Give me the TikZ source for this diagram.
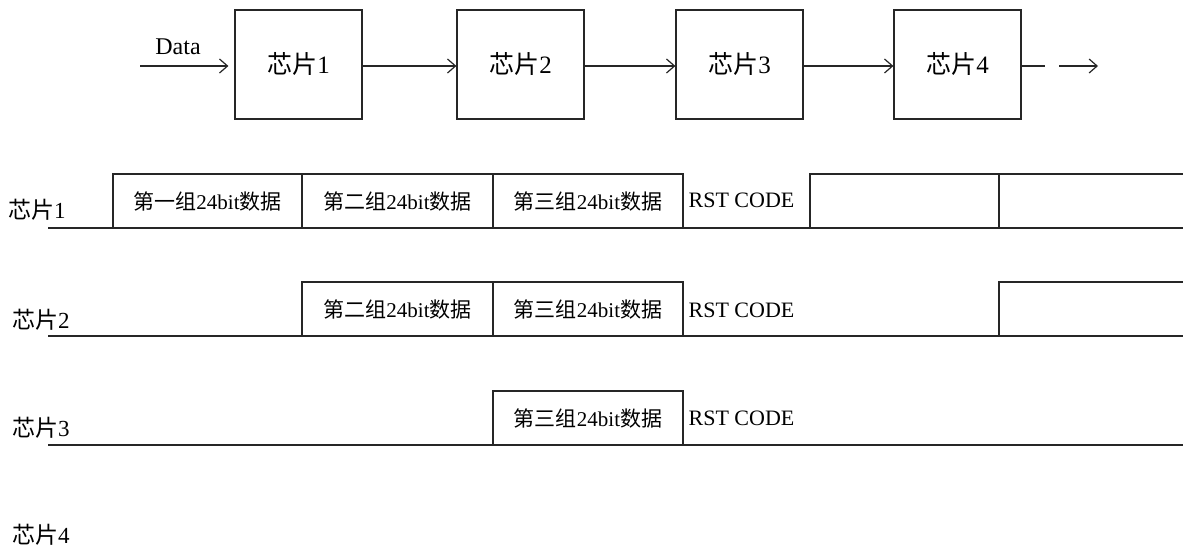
\documentclass[tikz,border=0pt]{standalone}
\usepackage{fontspec}
\setmainfont{Liberation Serif}
\newfontfamily\cjk{Noto Sans CJK SC}
\usetikzlibrary{arrows.meta}
\newcommand\zh[1]{{\cjk #1}}
\begin{document}
\begin{tikzpicture}[x=1pt,y=-1pt,
  line width=1.2pt, draw=black!85,
  arr/.style={-{Straight Barb[length=8pt,width=14pt,line width=1.2pt]}},
  chip/.style={draw, minimum width=127pt, minimum height=109pt, inner sep=0pt, font=\fontsize{25}{27}\selectfont},
  cell/.style={draw, minimum width=190pt, minimum height=54pt, inner sep=0pt, font=\fontsize{21}{23}\selectfont},
  rst/.style={anchor=west, inner sep=0pt, font=\fontsize{22}{24}\selectfont},
  rowlbl/.style={inner sep=0pt, font=\fontsize{23}{25}\selectfont}
]
\useasboundingbox (0,0) rectangle (1183,548);

% top chain
\node[chip] (c1) at (298.5,64.5) {\zh{芯片}1};
\node[chip] (c2) at (520.5,64.5) {\zh{芯片}2};
\node[chip] (c3) at (739.5,64.5) {\zh{芯片}3};
\node[chip] (c4) at (957.5,64.5) {\zh{芯片}4};
\coordinate (din) at (140,66);
\node[inner sep=0pt, font=\fontsize{24}{26}\selectfont] (data) at (178,47) {Data};
\draw[arr, shorten >=6pt] (din) -- (din -| c1.west);
\draw[arr] (c1.east |- din) -- (c2.west |- din);
\draw[arr] (c2.east |- din) -- (c3.west |- din);
\draw[arr] (c3.east |- din) -- (c4.west |- din);
\coordinate (t0) at (1045,66);
\coordinate (t1) at (1059,66);
\coordinate (t2) at (1098,66);
\draw (c4.east |- din) -- (t0);
\draw[arr] (t1) -- (t2);

% row labels
\node[rowlbl] (l1) at (37,210) {\zh{芯片}1};
\node[rowlbl] (l2) at (41,320) {\zh{芯片}2};
\node[rowlbl] (l3) at (41,428) {\zh{芯片}3};
\node[rowlbl] (l4) at (41,535) {\zh{芯片}4};

% row 1
\node[cell, minimum width=189pt] (a1) at (207.5,201) {\zh{第一组}24bit\zh{数据}};
\node[cell, minimum width=191pt] (b1) at (397.5,201) {\zh{第二组}24bit\zh{数据}};
\node[cell] (d1) at (588,201) {\zh{第三组}24bit\zh{数据}};
\node[rst] (r1) at (688,200) {RST CODE};
\node[cell, minimum width=189pt] (e1) at (904.5,201) {};
\node[cell, minimum width=192pt] (f1) at (1095,201) {};
\coordinate (s1) at (48,228);
\coordinate (x1) at (1200,228);
\draw (s1) -- (x1);

% row 2
\node[cell, minimum width=191pt] (b2) at (397.5,309) {\zh{第二组}24bit\zh{数据}};
\node[cell] (d2) at (588,309) {\zh{第三组}24bit\zh{数据}};
\node[rst] (r2) at (688,310) {RST CODE};
\node[cell, minimum width=192pt] (f2) at (1095,309) {};
\coordinate (s2) at (48,336);
\coordinate (x2) at (1200,336);
\draw (s2) -- (x2);

% row 3
\node[cell] (d3) at (588,418) {\zh{第三组}24bit\zh{数据}};
\node[rst] (r3) at (688,418) {RST CODE};
\coordinate (s3) at (48,445);
\coordinate (x3) at (1200,445);
\draw (s3) -- (x3);
\end{tikzpicture}
\end{document}
